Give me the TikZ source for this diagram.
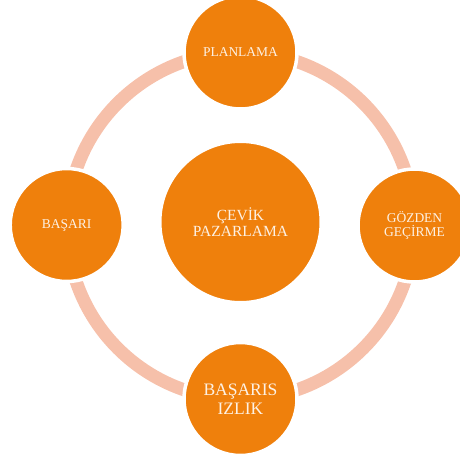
\documentclass[tikz,border=0pt]{standalone}
\usepackage{fontspec}
\setmainfont{Liberation Serif}
\definecolor{turuncu}{RGB}{239,128,12}
\definecolor{somon}{RGB}{246,192,170}
\definecolor{krem}{RGB}{253,241,228}

\begin{document}
\begin{tikzpicture}[x=1pt, y=-1pt,
    evre/.style={circle, fill=turuncu, draw=white, line width=3.5pt, minimum size=113pt, inner sep=0pt, text=krem, align=center, font=\fontsize{13.5}{13.5}\selectfont},
    merkez/.style={circle, fill=turuncu, draw=white, line width=3pt, minimum size=161pt, inner sep=0pt, text=krem, align=center, font=\fontsize{15.5}{16}\selectfont}]
                
                    \useasboundingbox (0,0) rectangle (459,461);
                    \draw[somon, line width=13pt] (240.5,225.7) circle (173.5pt);
                    
                    \node[merkez] (cevik) at (240.5,222) {ÇEVİK\\PAZARLAMA};
                    \node[evre] (plan) at (240.5,52.5) {PLANLAMA};
                    \node[evre] (gozden) at (414.5,225.5) {GÖZDEN\\GEÇİRME};
                    \node[evre, font=\fontsize{17.5}{19.5}\selectfont] (izlik) at (240.5,399) {BAŞARIS\\IZLIK};
                    \node[evre] (basari) at (66.7,225) {BAŞARI};
                    
                \end{tikzpicture}
\end{document}
